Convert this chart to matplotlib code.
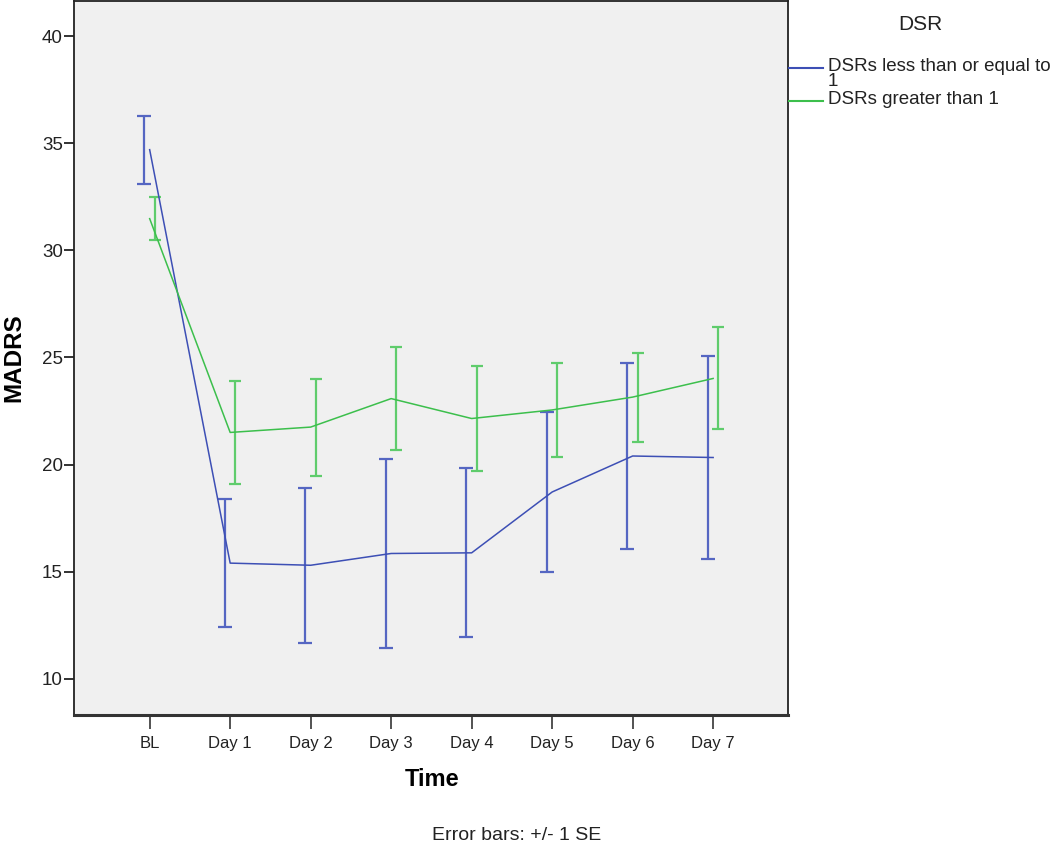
import matplotlib
matplotlib.use("Agg")
import matplotlib.pyplot as plt
from matplotlib.lines import Line2D
import numpy as np

# ------------------- Data -------------------
time_points = ["BL", "Day 1", "Day 2", "Day 3", "Day 4", "Day 5", "Day 6", "Day 7"]

low_mean = [34.7, 15.4, 15.3, 15.85, 15.88, 18.72, 20.4, 20.33]
low_se = [1.58, 3.0, 3.61, 4.41, 3.95, 3.75, 4.34, 4.74]

high_mean = [31.48, 21.5, 21.75, 23.08, 22.15, 22.55, 23.15, 24.02]
high_se = [1.0, 2.4, 2.26, 2.39, 2.47, 2.18, 2.08, 2.38]

group_labels = ["DSRs less than or equal to\n1", "DSRs greater than 1"]
blue, blue_bar = "#3d4fb5", "#5566c2"
green, green_bar = "#3cbf4c", "#5fcc6c"
font = ["Liberation Sans", "DejaVu Sans"]

# ------------------- Figure -------------------
fig = plt.figure(figsize=(10.5, 8.44), dpi=100)
ax = fig.add_axes([74 / 1050, 1 - 715 / 844, (788 - 74) / 1050, (715 - 1) / 844])
ax.set_facecolor("#f0f0f0")

x = np.arange(len(time_points))
offset = 0.065

ax.plot(x, low_mean, color=blue, lw=1.1, zorder=3)
ax.plot(x, high_mean, color=green, lw=1.1, zorder=3)
ax.errorbar(x - offset, low_mean, yerr=low_se, fmt="none", ecolor=blue_bar,
            elinewidth=1.6, capsize=5, capthick=1.6, zorder=2)
ax.errorbar(x + offset, high_mean, yerr=high_se, fmt="none", ecolor=green_bar,
            elinewidth=1.6, capsize=4, capthick=1.6, zorder=2)

ax.set_xlim(-0.94, 7.93)
ax.set_ylim(8.31, 41.64)
ax.set_xticks(x)
ax.set_xticklabels(time_points, family=font, fontsize=12)
ax.set_yticks([10, 15, 20, 25, 30, 35, 40])
for lab in ax.get_yticklabels():
    lab.set_family(font)
    lab.set_fontsize(13.5)

ax.tick_params(axis="y", direction="out", length=7, width=1.3, color="#222222",
               pad=1, labelcolor="#222222")
ax.tick_params(axis="x", direction="out", length=10, width=1.3, color="#444444",
               pad=5, labelcolor="#222222")

for side in ["left", "top", "right"]:
    ax.spines[side].set_linewidth(1.3)
    ax.spines[side].set_color("#222222")
ax.spines["bottom"].set_linewidth(2.2)
ax.spines["bottom"].set_color("#333333")

ax.set_ylabel("MADRS", fontsize=17.5, fontweight="bold", family=font, va="center")
ax.yaxis.set_label_coords((14 - 74) / 714, (715 - 358) / 714)
ax.set_xlabel("Time", fontsize=17, fontweight="bold", family=font, va="center")
ax.xaxis.set_label_coords((432 - 74) / 714, -(780 - 715) / 714)

fig.text(517 / 1050, 1 - 835 / 844, "Error bars: +/- 1 SE", ha="center", va="center",
         fontsize=14, family=font, color="#222222")

# ------------------- Legend (manual) -------------------
fig.text(920 / 1050, 1 - 25 / 844, "DSR", ha="center", va="center", fontsize=15,
         family=font, color="#222222")
for color, label, ly in [(blue, group_labels[0], 68), (green, group_labels[1], 101)]:
    fig.add_artist(Line2D([789 / 1050, 823 / 1050], [1 - ly / 844, 1 - ly / 844],
                          color=color, lw=1.5, transform=fig.transFigure))
    fig.text(828 / 1050, 1 - (ly - 10) / 844, label, ha="left", va="top", fontsize=13.5,
             family=font, color="#222222", linespacing=0.85)

fig.savefig("out.png", dpi=100, facecolor="white")
